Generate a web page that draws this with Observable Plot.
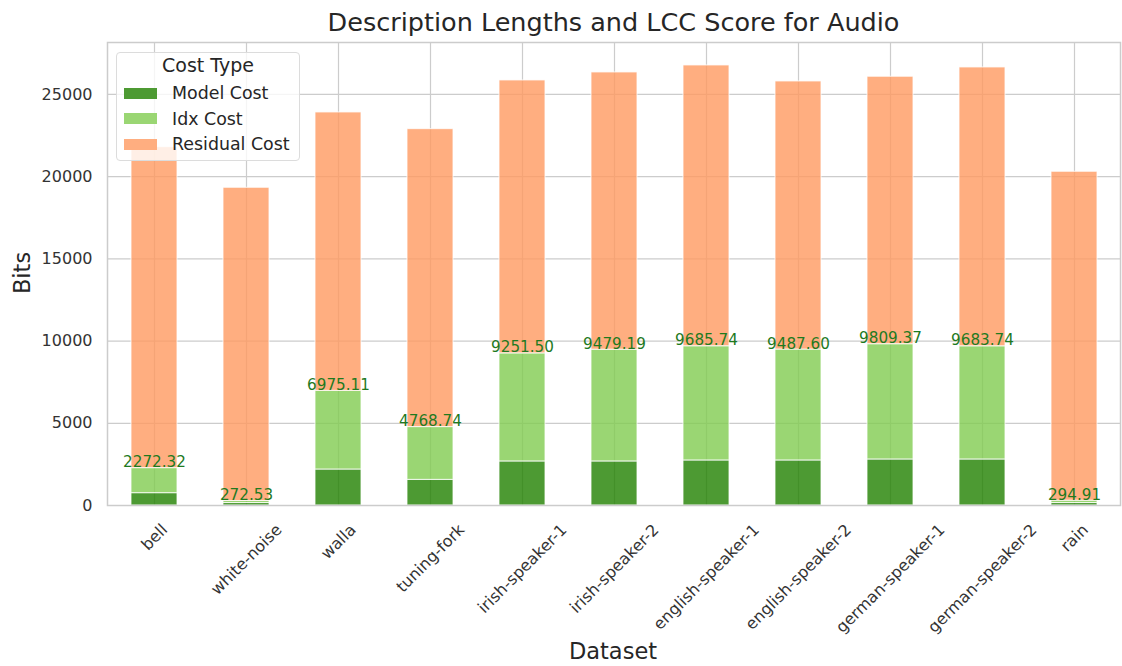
<!DOCTYPE html>
<html>
<head>
<meta charset="utf-8">
<script src="https://cdn.jsdelivr.net/npm/d3@7"></script>
<script src="https://cdn.jsdelivr.net/npm/@observablehq/plot@0.6"></script>
<style>
  html, body { margin: 0; padding: 0; background: #fff; }
  #wrap { position: relative; width: 1122px; height: 666px; font-family: "DejaVu Sans", sans-serif; color: #262626; }
  #title { position: absolute; left: 107px; width: 1013px; top: 7px; text-align: center; font-size: 25.5px; }
  #chart { position: absolute; left: 0; top: 42px; }
  #ylab { position: absolute; left: 22px; top: 273px; transform: translate(-50%, -50%) rotate(-90deg); font-size: 22.5px; }
  #xlab { position: absolute; left: 613px; top: 651px; transform: translate(-50%, -50%); font-size: 22.5px; }
  #legend { position: absolute; left: 116px; top: 52px; width: 184px; height: 109px; box-sizing: border-box;
            border: 1px solid #dcdcdc; border-radius: 4px; background: rgba(255,255,255,0.8); font-size: 17.4px; }
  #legend .lt { position: absolute; left: 0; width: 100%; top: 1px; text-align: center; font-size: 19px; }
  #legend .it { position: absolute; left: 7px; height: 22px; line-height: 22px; white-space: nowrap; }
  #legend .sw { display: inline-block; width: 33px; height: 11px; vertical-align: middle; margin-right: 15px; position: relative; top: -1px; }
</style>
</head>
<body>
<div id="wrap">
  <div id="title">Description Lengths and LCC Score for Audio</div>
  <div id="chart"></div>
  <div id="ylab">Bits</div>
  <div id="xlab">Dataset</div>
  <div id="legend"></div>
</div>
<script>
const datasets = ["bell", "white-noise", "walla", "tuning-fork", "irish-speaker-1", "irish-speaker-2",
  "english-speaker-1", "english-speaker-2", "german-speaker-1", "german-speaker-2", "rain"];
const costTypes = ["Model Cost", "Idx Cost", "Residual Cost"];
const costColors = ["rgb(32,129,0)", "rgb(129,204,80)", "rgb(255,154,96)"];
const legendColors = ["#4d9a33", "#9ad673", "#ffae80"];
const modelCost = [750, 150, 2190, 1560, 2680, 2680, 2740, 2740, 2800, 2800, 150];
const idxCost = [1522.32, 122.53, 4785.11, 3208.74, 6571.50, 6799.19, 6945.74, 6747.60, 7009.37, 6883.74, 144.91];
const residualCost = [19523, 19052, 16930, 18121, 16600, 16859, 17078, 16303, 16268, 16958, 20003];
const lccLabels = ["2272.32", "272.53", "6975.11", "4768.74", "9251.50", "9479.19", "9685.74", "9487.60", "9809.37", "9683.74", "294.91"];
const yTicks = [0, 5000, 10000, 15000, 20000, 25000];
const yMax = 28160;

const series = [modelCost, idxCost, residualCost];
const rows = [];
datasets.forEach((d, i) => costTypes.forEach((t, j) => rows.push({dataset: d, type: t, value: series[j][i]})));
const labelRows = datasets.map((d, i) => ({dataset: d, top: modelCost[i] + idxCost[i], label: lccLabels[i]}));

// x tick labels: rotated 45°, with the rotated box centred on the tick and its top at a fixed offset
const xFont = 16;
const ctx = document.createElement("canvas").getContext("2d");
ctx.font = xFont + "px 'DejaVu Sans'";
const xTickMarks = datasets.map(d => {
  const w = ctx.measureText(d).width;
  const half = (w + 1.164 * xFont) * Math.SQRT1_2 / 2;
  return Plot.text([d], {x: v => v, frameAnchor: "bottom", rotate: -45, textAnchor: "middle", lineAnchor: "middle",
    dy: 15 + half, fontSize: xFont, fill: "#333"});
});

const chart = Plot.plot({
  width: 1122, height: 624,
  marginTop: 0, marginLeft: 107, marginRight: 2, marginBottom: 161,
  style: {fontFamily: "DejaVu Sans", fontSize: "15px", color: "#333", background: "white", overflow: "visible"},
  x: {domain: datasets, paddingInner: 0.5, paddingOuter: 0.25, label: null, axis: null},
  y: {domain: [0, yMax], label: null},
  color: {domain: costTypes, range: costColors},
  marks: [
    Plot.gridY(yTicks, {stroke: "#cccccc", strokeOpacity: 1, strokeWidth: 1.2}),
    Plot.gridX({stroke: "#cccccc", strokeOpacity: 1, strokeWidth: 1.2}),
    Plot.barY(rows, {x: "dataset", y: "value", fill: "type", fillOpacity: 0.8, stroke: "white", strokeWidth: 1, strokeOpacity: 0.8}),
    Plot.text(labelRows, {x: "dataset", y: "top", text: "label", lineAnchor: "bottom", dy: -1, fill: "#1f7a1f", fontSize: 15.2}),
    Plot.axisY(yTicks, {tickSize: 0, tickPadding: 15, tickFormat: d => String(d), label: null, fontSize: 16, fill: "#333"}),
    ...xTickMarks,
    Plot.frame({stroke: "#cccccc", strokeWidth: 1.5})
  ]
});
document.getElementById("chart").appendChild(chart);

const lg = document.getElementById("legend");
const lt = document.createElement("div");
lt.className = "lt"; lt.textContent = "Cost Type"; lg.appendChild(lt);
costTypes.forEach((t, j) => {
  const it = document.createElement("div");
  it.className = "it";
  it.style.top = (29 + j * 25.5) + "px";
  const sw = document.createElement("span");
  sw.className = "sw"; sw.style.background = legendColors[j];
  it.appendChild(sw);
  it.appendChild(document.createTextNode(t));
  lg.appendChild(it);
});
</script>
</body>
</html>
